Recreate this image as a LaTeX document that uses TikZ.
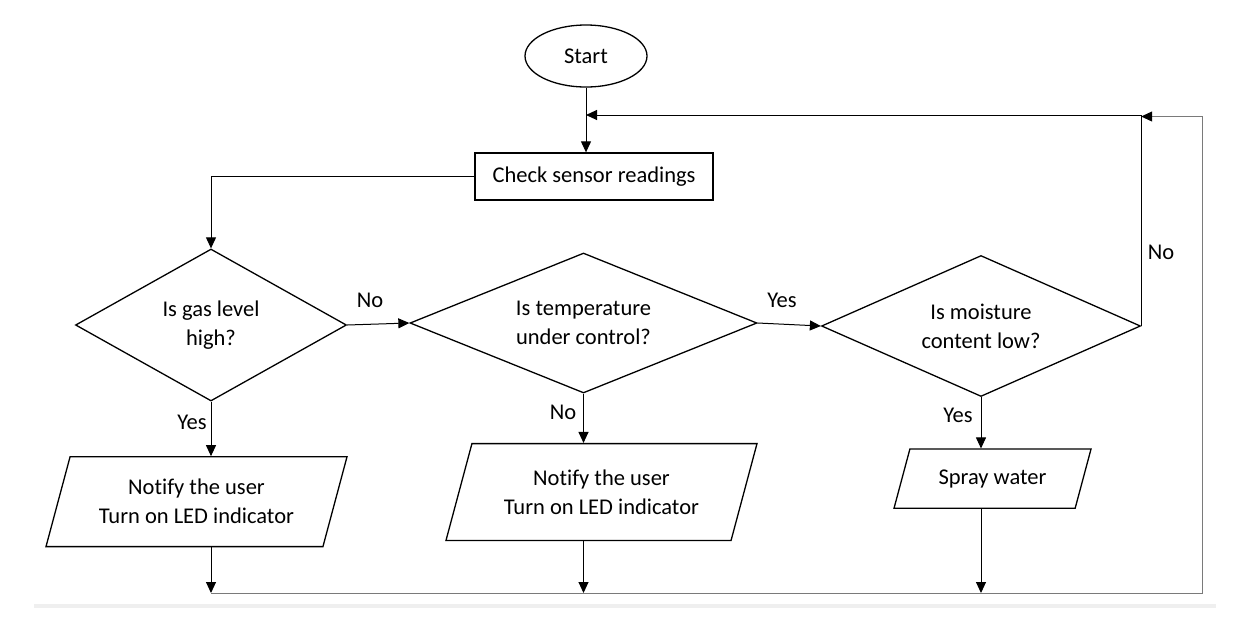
\documentclass[tikz,border=0pt]{standalone}
\usepackage{fontspec}
\setmainfont{Carlito}[Ligatures=NoCommon]
\usetikzlibrary{shapes.geometric,arrows.meta}
\definecolor{loopgray}{HTML}{7A7A7A}
\definecolor{bandgray}{HTML}{EFEFEF}
\begin{document}
\begin{tikzpicture}[x=1pt,y=-1pt,line width=1.3pt,
  every node/.style={font=\fontsize{22.5}{29}\selectfont,align=center,inner sep=0pt},
  decision/.style={draw,diamond,aspect=2},
  io/.style={draw,trapezium,trapezium left angle=75,trapezium right angle=105,trapezium stretches body},
  arr/.style={-{Triangle[length=11pt,width=10pt,color=black]},line width=1pt}]
\useasboundingbox (0,0) rectangle (1256,625);
\fill[bandgray] (34,604) rectangle (1216,608);
\node[draw,ellipse,minimum width=122,minimum height=62] (start) at (586,56) {Start};
\node[draw,minimum width=238,minimum height=47] (check) at (594,176.5) {Check sensor readings};
\node[decision,minimum width=271,minimum height=152] (gas) at (211,325) {Is gas level\\high?};
\node[decision,minimum width=347,minimum height=140] (temp) at (583.5,323) {Is temperature\\under control?};
\node[decision,minimum width=319,minimum height=141] (moist) at (981,326) {Is moisture\\content low?};
\node[io,inner ysep=22.5,minimum width=301] (note1) at (196.5,501.7) {Notify the user\\Turn on LED indicator};
\node[io,inner ysep=26,minimum width=311] (note2) at (601.5,492) {Notify the user\\Turn on LED indicator};
\node[io,inner ysep=20.5,minimum width=197] (spray) at (992.5,478.7) {Spray water};
\node (no1) at (370,300) {No};
\node (yes1) at (782,300) {Yes};
\node (no2) at (1161,252) {No};
\node (yes2) at (192,422) {Yes};
\node (no3) at (563,412) {No};
\node (yes3) at (958,415) {Yes};
\coordinate (join) at (586,115);
\coordinate (loop) at (1202,116.5);
\coordinate (bot) at (1202,593);
\draw[arr] (start.south) -- (start |- check.north);
\draw[arr] (check.west) -| (gas.north);
\draw[arr] (gas.east) -- (temp.west);
\draw[arr] (temp.east) -- (moist.west);
\draw[arr] (moist.east) |- (join);
\draw[arr] (gas.south) -- (gas.south |- note1.north);
\draw[arr] (temp.south) -- (temp.south |- note2.north);
\draw[arr] (moist.south) -- (moist.south |- spray.north);
\draw[arr] (gas.south |- note1.south) -- (gas.south |- bot);
\draw[arr] (temp.south |- note2.south) -- (temp.south |- bot);
\draw[arr] (moist.south |- spray.south) -- (moist.south |- bot);
\draw[arr,loopgray] (gas.south |- bot) -- (bot) -- (loop) -- (moist.east |- loop);
\end{tikzpicture}
\end{document}
